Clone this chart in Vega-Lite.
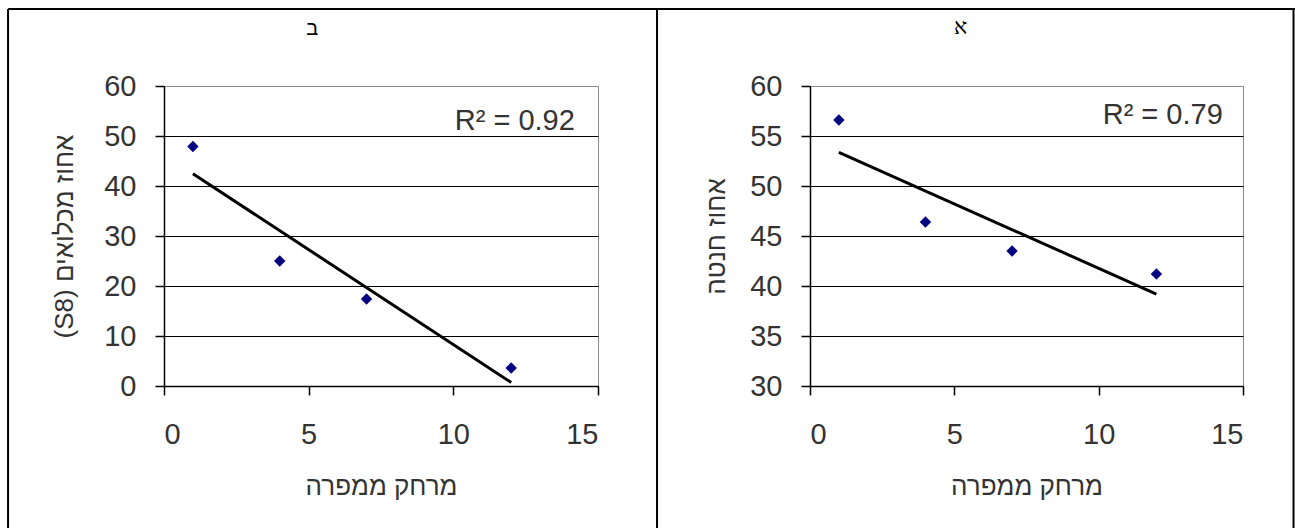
{
  "$schema": "https://vega.github.io/schema/vega-lite/v6.json",
  "background": "white",
  "padding": {"left": 6, "top": 7, "right": 0, "bottom": 0},
  "bounds": "flush",
  "spacing": 212,
  "config": {
    "view": {"stroke": "#8c8c8c", "strokeWidth": 1},
    "axis": {
      "labelFont": "Liberation Sans", "labelFontSize": 29, "labelColor": "#333333",
      "titleFont": "Liberation Sans", "titleFontSize": 26, "titleColor": "#333333", "titleFontWeight": "normal",
      "domainColor": "black", "domainWidth": 1.5, "tickColor": "black", "tickWidth": 1.5, "tickSize": 9,
      "gridColor": "black", "gridWidth": 1
    },
    "axisX": {"labelPadding": 25, "titlePadding": 24, "grid": false},
    "axisY": {"labelPadding": 19, "titlePadding": 14}
  },
  "hconcat": [
    {
      "width": 434, "height": 300,
      "data": {"values": [
        {"x": 1, "y": 47.9}, {"x": 4, "y": 25.0}, {"x": 7, "y": 17.4}, {"x": 12, "y": 3.6}
      ]},
      "layer": [
        {
          "mark": {"type": "point", "shape": "diamond", "filled": true, "size": 130, "color": "#000080", "opacity": 1},
          "encoding": {
            "x": {"field": "x", "type": "quantitative", "scale": {"domain": [0, 15], "nice": false}, "axis": {"values": [0, 5, 10, 15], "title": "מרחק ממפרה"}},
            "y": {"field": "y", "type": "quantitative", "scale": {"domain": [0, 60], "nice": false, "zero": false}, "axis": {"values": [0, 10, 20, 30, 40, 50, 60], "title": "\u202bאחוז מכלואים (S8)\u202c", "titlePadding": 26, "gridColor": {"condition": {"test": "datum.value === 60", "value": "#8c8c8c"}, "value": "black"}}}
          }
        },
        {
          "transform": [{"regression": "y", "on": "x"}],
          "mark": {"type": "line", "color": "black", "strokeWidth": 3},
          "encoding": {
            "x": {"field": "x", "type": "quantitative", "scale": {"domain": [0, 15], "nice": false}},
            "y": {"field": "y", "type": "quantitative", "scale": {"domain": [0, 60], "nice": false, "zero": false}}
          }
        },
        {
          "data": {"values": [{"label": "R² = 0.92"}]},
          "mark": {"type": "text", "align": "right", "baseline": "middle", "font": "Liberation Sans", "fontSize": 29, "color": "#333333"},
          "encoding": {
            "x": {"datum": 14.2, "type": "quantitative", "scale": {"domain": [0, 15], "nice": false}},
            "y": {"datum": 53, "type": "quantitative", "scale": {"domain": [0, 60], "nice": false, "zero": false}},
            "text": {"field": "label"}
          }
        },
        {
          "data": {"values": [{"label": "ב"}]},
          "mark": {"type": "text", "align": "center", "baseline": "middle", "font": "Liberation Sans", "fontSize": 20, "color": "black", "clip": false},
          "encoding": {
            "x": {"datum": 5.12, "type": "quantitative", "scale": {"domain": [0, 15], "nice": false}},
            "y": {"datum": 71.4, "type": "quantitative", "scale": {"domain": [0, 60], "nice": false, "zero": false}},
            "text": {"field": "label"}
          }
        },
        {
          "data": {"values": [{}]},
          "mark": {"type": "rule", "color": "black", "strokeWidth": 2, "clip": false},
          "encoding": {
            "x": {"datum": -5.39, "type": "quantitative", "scale": {"domain": [0, 15], "nice": false}},
            "y": {"datum": 75.4, "type": "quantitative", "scale": {"domain": [0, 60], "nice": false, "zero": false}},
            "y2": {"datum": -28.6}
          }
        },
        {
          "data": {"values": [{}]},
          "mark": {"type": "rule", "color": "black", "strokeWidth": 2, "clip": false},
          "encoding": {
            "x": {"datum": 17.04, "type": "quantitative", "scale": {"domain": [0, 15], "nice": false}},
            "y": {"datum": 75.4, "type": "quantitative", "scale": {"domain": [0, 60], "nice": false, "zero": false}},
            "y2": {"datum": -28.6}
          }
        },
        {
          "data": {"values": [{}]},
          "mark": {"type": "rule", "color": "black", "strokeWidth": 2, "clip": false},
          "encoding": {
            "x": {"datum": -5.39, "type": "quantitative", "scale": {"domain": [0, 15], "nice": false}},
            "x2": {"datum": 17.04},
            "y": {"datum": 75.4, "type": "quantitative", "scale": {"domain": [0, 60], "nice": false, "zero": false}}
          }
        }
      ]
    },
    {
      "width": 433, "height": 300,
      "data": {"values": [
        {"x": 1, "y": 56.6}, {"x": 4, "y": 46.4}, {"x": 7, "y": 43.5}, {"x": 12, "y": 41.2}
      ]},
      "layer": [
        {
          "mark": {"type": "point", "shape": "diamond", "filled": true, "size": 130, "color": "#000080", "opacity": 1},
          "encoding": {
            "x": {"field": "x", "type": "quantitative", "scale": {"domain": [0, 15], "nice": false}, "axis": {"values": [0, 5, 10, 15], "title": "מרחק ממפרה"}},
            "y": {"field": "y", "type": "quantitative", "scale": {"domain": [30, 60], "nice": false, "zero": false}, "axis": {"values": [30, 35, 40, 45, 50, 55, 60], "title": "אחוז חנטה", "titlePadding": 20, "gridColor": {"condition": {"test": "datum.value === 60", "value": "#8c8c8c"}, "value": "black"}}}
          }
        },
        {
          "transform": [{"regression": "y", "on": "x"}],
          "mark": {"type": "line", "color": "black", "strokeWidth": 3},
          "encoding": {
            "x": {"field": "x", "type": "quantitative", "scale": {"domain": [0, 15], "nice": false}},
            "y": {"field": "y", "type": "quantitative", "scale": {"domain": [30, 60], "nice": false, "zero": false}}
          }
        },
        {
          "data": {"values": [{"label": "R² = 0.79"}]},
          "mark": {"type": "text", "align": "right", "baseline": "middle", "font": "Liberation Sans", "fontSize": 29, "color": "#333333"},
          "encoding": {
            "x": {"datum": 14.3, "type": "quantitative", "scale": {"domain": [0, 15], "nice": false}},
            "y": {"datum": 57.1, "type": "quantitative", "scale": {"domain": [30, 60], "nice": false, "zero": false}},
            "text": {"field": "label"}
          }
        },
        {
          "data": {"values": [{"label": "א"}]},
          "mark": {"type": "text", "align": "center", "baseline": "middle", "font": "Liberation Serif", "fontSize": 22, "color": "black", "clip": false},
          "encoding": {
            "x": {"datum": 5.22, "type": "quantitative", "scale": {"domain": [0, 15], "nice": false}},
            "y": {"datum": 65.9, "type": "quantitative", "scale": {"domain": [30, 60], "nice": false, "zero": false}},
            "text": {"field": "label"}
          }
        },
        {
          "data": {"values": [{}]},
          "mark": {"type": "rule", "color": "black", "strokeWidth": 2, "clip": false},
          "encoding": {
            "x": {"datum": -5.31, "type": "quantitative", "scale": {"domain": [0, 15], "nice": false}},
            "x2": {"datum": 16.8},
            "y": {"datum": 67.7, "type": "quantitative", "scale": {"domain": [30, 60], "nice": false, "zero": false}}
          }
        },
        {
          "data": {"values": [{}]},
          "mark": {"type": "rule", "color": "black", "strokeWidth": 2, "clip": false},
          "encoding": {
            "x": {"datum": 16.75, "type": "quantitative", "scale": {"domain": [0, 15], "nice": false}},
            "y": {"datum": 67.7, "type": "quantitative", "scale": {"domain": [30, 60], "nice": false, "zero": false}},
            "y2": {"datum": 15.7}
          }
        }
      ]
    }
  ]
}
